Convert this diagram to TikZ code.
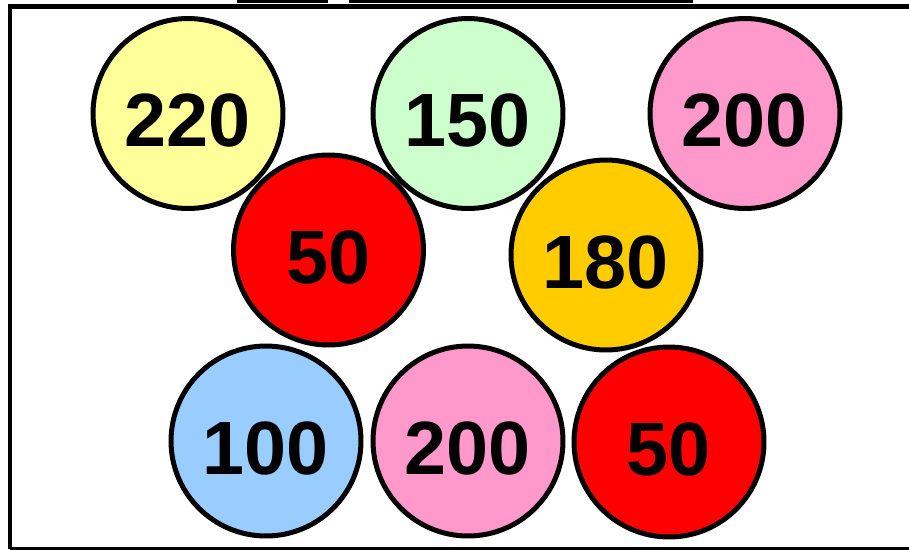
\documentclass[tikz,border=0pt]{standalone}
\usepackage{fontspec}
\setmainfont{Liberation Sans}
\usetikzlibrary{positioning}
\definecolor{cyellow}{HTML}{FFFF99}
\definecolor{cgreen}{HTML}{CCFFCC}
\definecolor{cpink}{HTML}{FF99CC}
\definecolor{cred}{HTML}{FF0000}
\definecolor{corange}{HTML}{FFCC00}
\definecolor{cblue}{HTML}{99CCFF}

\begin{document}
\begin{tikzpicture}[x=0.02cm, y=-0.02cm,
          coin/.style={circle, draw=black, line width=0.1cm, minimum size=3.8cm, inner sep=0pt, font=\fontsize{43pt}{43pt}\selectfont\bfseries, text height=1.33cm, text depth=0pt}]
        \useasboundingbox (0,0) rectangle (909,549);
        % frame and the bars cut at the top
        \fill (237,0) rectangle (328,3);
        \fill (349,0) rectangle (693,3);
        \draw[line width=0.06cm] (10,548) -- (909,548);
        \draw[line width=0.1cm] (10,549) -- (10,6.5) -- (909,6.5);
        % top row
        \node[coin, fill=cyellow] (a) at (188,113.5) {220};
        \node[coin, fill=cgreen] (b) at (468,113.5) {150};
        \node[coin, fill=cpink] (c) at (745,113.5) {200};
        % middle row
        \node[coin, fill=cred] (d) at (328.5,250) {50};
        \node[coin, fill=corange] (e) at (606,255) {180};
        % bottom row
        \node[coin, fill=cblue] (f) at (266,441) {100};
        \node[coin, fill=cpink] (g) at (468,441) {200};
        \node[coin, fill=cred] (h) at (669,442) {50};
      \end{tikzpicture}
\end{document}
